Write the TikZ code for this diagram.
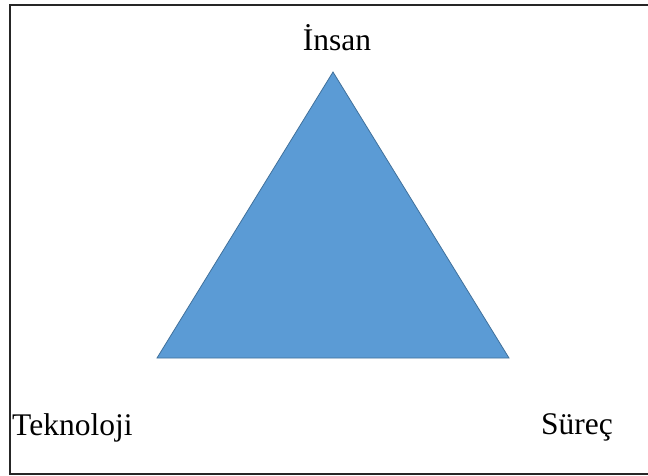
\documentclass[tikz,border=0pt]{standalone}
\usepackage{fontspec}
\setmainfont{Liberation Serif}
\usetikzlibrary{positioning}
\definecolor{triblue}{HTML}{5B9BD5}
\definecolor{triedge}{HTML}{41719C}

\begin{document}
\begin{tikzpicture}[
    x=1pt, y=-1pt,
    every node/.style={font=\fontsize{31.5}{36}\selectfont, inner sep=0pt},
    frame/.style={draw=black!85, line width=1.5pt},
    tri/.style={fill=triblue, draw=triedge, line width=0.8pt, line join=miter},
    label/.style={text=black}
]
\useasboundingbox (0,0) rectangle (648,476);

% Frame (cut off at the right)
\begin{scope}
  \clip (0,0) rectangle (648,476);
  \draw[frame] (10,5) rectangle (660,474);
\end{scope}

% Triangle corners
\coordinate (top) at (333,72);
\coordinate (left) at (157,358);
\coordinate (right) at (509,358);

\draw[tri] (top) -- (left) -- (right) -- cycle;

% Labels
\node[label, anchor=base] (insan) at (337,51) {İnsan};
\node[label, anchor=base west] (tekno) at (12,435) {Teknoloji};
\node[label, anchor=base west] (surec) at (541,434) {Süreç};

\end{tikzpicture}
\end{document}
